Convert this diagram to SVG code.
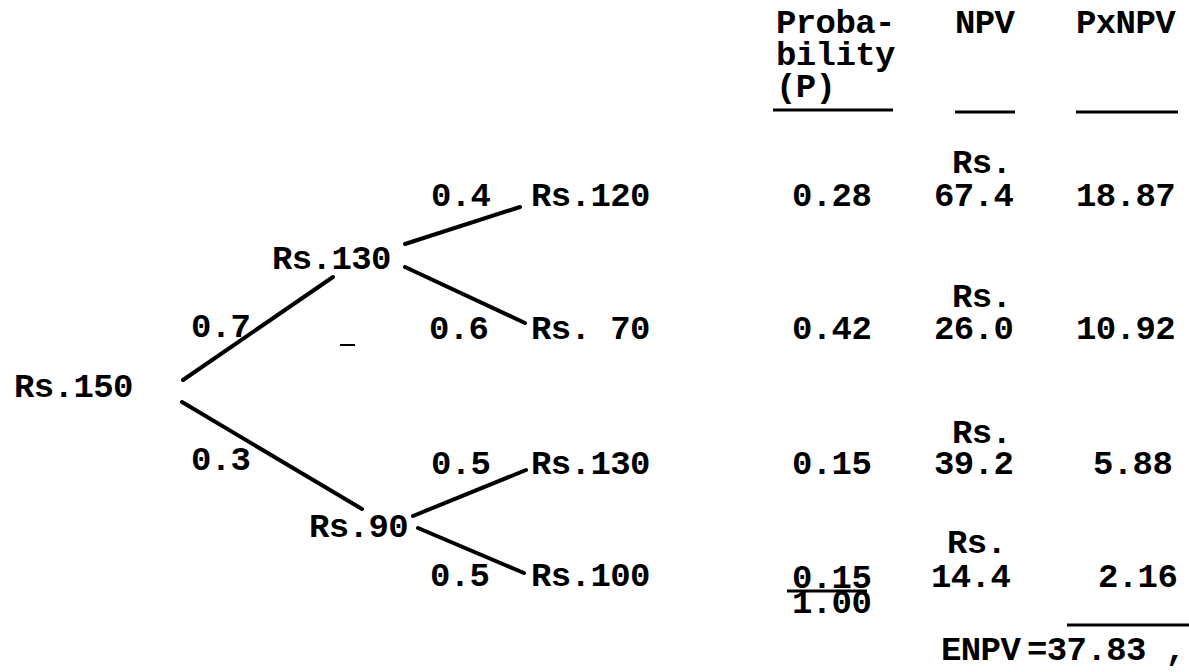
<svg xmlns="http://www.w3.org/2000/svg" width="1189" height="672" viewBox="0 0 1189 672">
  <style>
    text { font-family: "Liberation Mono", "Courier New", monospace; font-weight: bold; font-size: 34px; letter-spacing: -0.6px; fill: #000; }
    .edge { stroke: #000; stroke-width: 4; stroke-linecap: round; fill: none; }
    .rule { stroke: #000; stroke-width: 3; stroke-linecap: butt; fill: none; }
  </style>
  <rect width="1189" height="672" fill="#fff"/>

  <g id="connectors">
    <line class="edge" x1="183" y1="380" x2="333" y2="277"/>
    <line class="edge" x1="182" y1="402" x2="362" y2="509"/>
    <line class="edge" x1="405" y1="244" x2="520" y2="207"/>
    <line class="edge" x1="405" y1="267" x2="525" y2="323"/>
    <line class="edge" x1="413" y1="516" x2="526" y2="470"/>
    <line class="edge" x1="418" y1="528" x2="524" y2="573"/>
    <line x1="340" y1="345" x2="355" y2="345" stroke="#000" stroke-width="2"/>
  </g>

  <g id="node-root"><text x="14" y="397">Rs.150</text></g>
  <g id="node-up"><text x="272" y="269">Rs.130</text></g>
  <g id="node-down"><text x="309" y="537">Rs.90</text></g>
  <g id="edge-labels">
    <text x="191" y="337">0.7</text>
    <text x="191" y="470">0.3</text>
    <text x="431" y="206">0.4</text>
    <text x="429" y="339">0.6</text>
    <text x="431" y="474">0.5</text>
    <text x="430" y="586">0.5</text>
  </g>
  <g id="node-leaf1"><text x="531" y="206">Rs.120</text></g>
  <g id="node-leaf2"><text x="531" y="339">Rs. 70</text></g>
  <g id="node-leaf3"><text x="531" y="474">Rs.130</text></g>
  <g id="node-leaf4"><text x="531" y="586">Rs.100</text></g>

  <g id="table-header">
    <text x="776" y="33">Proba-</text>
    <text x="776" y="65">bility</text>
    <text x="776" y="97">(P)</text>
    <line class="rule" x1="773" y1="110" x2="893" y2="110"/>
    <text x="955" y="33">NPV</text>
    <line class="rule" x1="955" y1="112" x2="1015" y2="112"/>
    <text x="1076" y="33">PxNPV</text>
    <line class="rule" x1="1076" y1="112" x2="1178" y2="112"/>
  </g>

  <g id="row1">
    <text x="792" y="206">0.28</text>
    <text x="952" y="173">Rs.</text>
    <text x="934" y="206">67.4</text>
    <text x="1076" y="206">18.87</text>
  </g>
  <g id="row2">
    <text x="792" y="339">0.42</text>
    <text x="952" y="307">Rs.</text>
    <text x="934" y="339">26.0</text>
    <text x="1076" y="339">10.92</text>
  </g>
  <g id="row3">
    <text x="792" y="474">0.15</text>
    <text x="952" y="443">Rs.</text>
    <text x="934" y="474">39.2</text>
    <text x="1093" y="474">5.88</text>
  </g>
  <g id="row4">
    <text x="792" y="588">0.15</text>
    <line class="rule" x1="787" y1="591" x2="867" y2="591"/>
    <text x="792" y="613">1.00</text>
    <text x="947" y="553">Rs.</text>
    <text x="931" y="587">14.4</text>
    <text x="1098" y="587">2.16</text>
  </g>
  <g id="total">
    <line class="rule" x1="1067" y1="625" x2="1189" y2="625"/>
    <text x="941" y="660">ENPV</text>
    <text x="1027" y="660">=37.83 ,</text>
  </g>
</svg>
